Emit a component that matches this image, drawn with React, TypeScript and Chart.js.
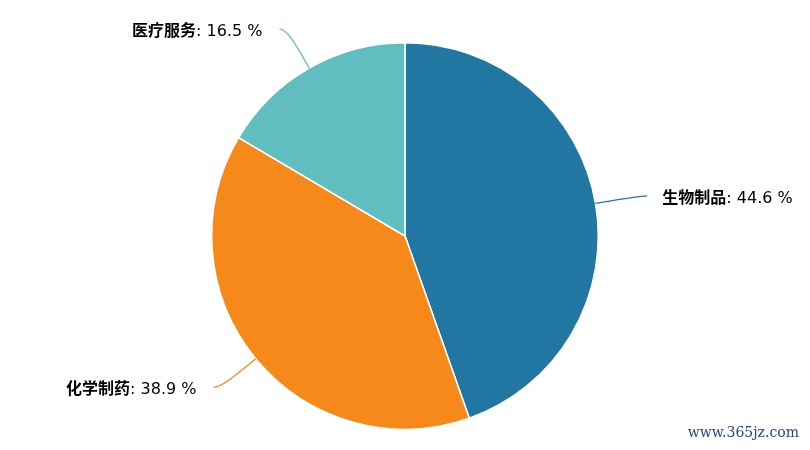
import { useEffect, useRef } from 'react'
import Chart from 'chart.js/auto'

const categories = ['生物制品', '化学制药', '医疗服务']
const shares = [44.6, 38.9, 16.5]
const colors = ['#2277a2', '#f7891b', '#60bec0']

const labelFont = "'DejaVu Sans', 'Noto Sans CJK SC', sans-serif"

// draws curved connectors and "name: x %" labels outside each slice
const pieLabels = {
  id: 'pieLabels',
  afterDatasetsDraw(chart: any) {
    const { ctx } = chart
    const meta = chart.getDatasetMeta(0)
    const values = chart.data.datasets[0].data as number[]
    const total = values.reduce((a, b) => a + b, 0)
    meta.data.forEach((arc: any, i: number) => {
      const { x, y, startAngle, endAngle, outerRadius } = arc.getProps(
        ['x', 'y', 'startAngle', 'endAngle', 'outerRadius'],
        true
      )
      const mid = (startAngle + endAngle) / 2
      const cos = Math.cos(mid)
      const sin = Math.sin(mid)
      const side = cos >= 0 ? 1 : -1
      const sx = x + cos * outerRadius
      const sy = y + sin * outerRadius
      const bx = x + cos * (outerRadius + 28)
      const by = y + sin * (outerRadius + 28)
      const ex = x + cos * (outerRadius + 45) + side * 7.5
      const ey = y + sin * (outerRadius + 45)

      ctx.save()
      ctx.strokeStyle = colors[i]
      ctx.lineWidth = 1.3
      ctx.beginPath()
      ctx.moveTo(sx, sy)
      ctx.bezierCurveTo(bx, by, ex - side * 8, ey, ex, ey)
      ctx.stroke()

      const name = chart.data.labels[i] as string
      const rest = ': ' + ((values[i] / total) * 100).toFixed(1) + ' %'
      ctx.fillStyle = '#000'
      ctx.textBaseline = 'middle'
      ctx.font = `bold 16px ${labelFont}`
      const w1 = ctx.measureText(name).width
      ctx.font = `16px ${labelFont}`
      const w2 = ctx.measureText(rest).width
      const tx = side > 0 ? ex + 15 : ex - 17 - w1 - w2
      const ty = ey + 3
      ctx.font = `bold 16px ${labelFont}`
      ctx.fillText(name, tx, ty)
      ctx.font = `16px ${labelFont}`
      ctx.fillText(rest, tx + w1, ty)
      ctx.restore()
    })
  },
}

export default function App() {
  const chartRef = useRef<HTMLCanvasElement>(null)
  const chartInstance = useRef<Chart | null>(null)

  useEffect(() => {
    if (chartInstance.current) chartInstance.current.destroy()
    const ctx = chartRef.current!.getContext('2d')!
    chartInstance.current = new Chart(ctx, {
      type: 'pie',
      data: {
        labels: categories,
        datasets: [
          {
            data: shares,
            backgroundColor: colors,
            borderColor: '#ffffff',
            borderWidth: 1.5,
          },
        ],
      },
      options: {
        animation: false,
        responsive: true,
        maintainAspectRatio: false,
        layout: { padding: { top: 42, bottom: 20, left: 0, right: 0 } },
        plugins: {
          legend: { display: false },
          tooltip: { enabled: false },
        },
      },
      plugins: [pieLabels],
    })
    return () => {
      if (chartInstance.current) {
        chartInstance.current.destroy()
        chartInstance.current = null
      }
    }
  }, [])

  return (
    <div style={{ position: 'absolute', left: 0, top: 0, width: 810, height: 450, background: '#fff' }}>
      <canvas ref={chartRef} />
      <div
        style={{
          position: 'absolute',
          right: 11,
          top: 424,
          fontFamily: "'DejaVu Serif', serif",
          fontSize: 14,
          color: '#26468a',
        }}
      >
        www.365jz.com
      </div>
    </div>
  )
}
